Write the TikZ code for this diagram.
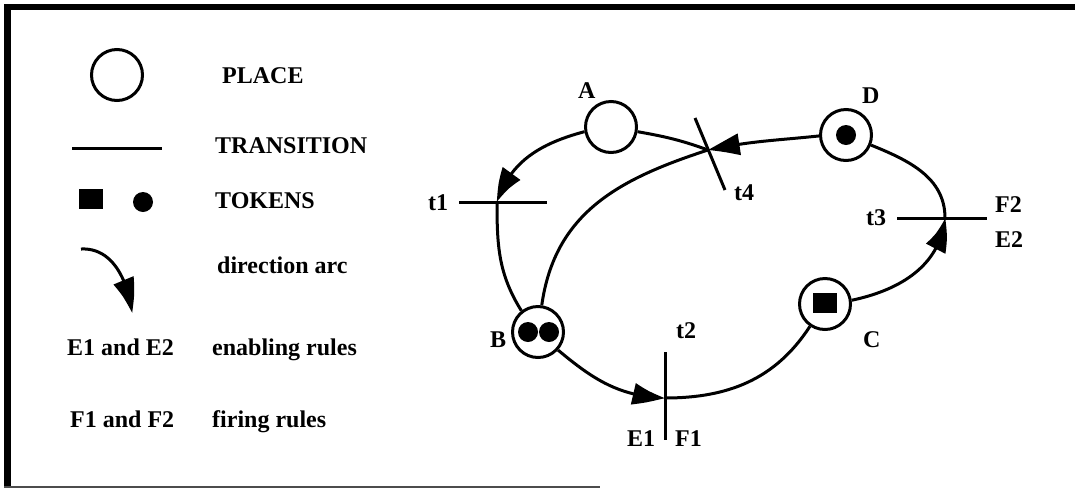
\documentclass[tikz,border=0pt]{standalone}
\usepackage{fontspec}
\setmainfont{Liberation Serif}
\usetikzlibrary{arrows.meta,calc,bending}
\newcommand\lbfnt{\fontsize{24}{27}\selectfont\bfseries}
\begin{document}
\begin{tikzpicture}[x=1pt,y=-1pt,
  place/.style={circle,draw,line width=3pt,minimum size=51pt,inner sep=0pt},
  dottok/.style={circle,fill,minimum size=20pt,inner sep=0pt},
  sqtok/.style={rectangle,fill,minimum width=24pt,minimum height=20pt,inner sep=0pt},
  lbl/.style={font=\lbfnt,inner sep=0pt,anchor=base west},
  arc/.style={line width=3pt},
  tarc/.style={line width=3pt,-{Triangle[length=34pt,width=21pt,bend]}},
  bar/.style={line width=3pt}]
\useasboundingbox (0,0) rectangle (1075,488);
% frame
\draw[line width=6.5pt] (4,7) -- (1075,7);
\draw[line width=7pt] (7.5,4) -- (7.5,488);
\draw[line width=1.2pt,black!70] (4,487) -- (600,487);

% ---------- legend ----------
\node[place] (lgplace) at (117,75) {};
\node[lbl] (lgplacet) at (222,83) {PLACE};
\coordinate (lgtrL) at (72,148);
\coordinate (lgtrR) at (162,148);
\draw[bar] (lgtrL) -- (lgtrR);
\node[lbl] (lgtrt) at (215,153) {TRANSITION};
\node[sqtok] (lgsq) at (90.5,199) {};
\node[dottok] (lgdot) at (143,202) {};
\node[lbl] (lgtokt) at (215,208) {TOKENS};
\coordinate (lgarcS) at (81,249);
\coordinate (lgarcE) at (132,313);
\draw[tarc] (lgarcS) to[out=3,in=97] (lgarcE);
\node[lbl] (lgarct) at (217,273) {direction arc};
\node[lbl] (lgE) at (67,355) {E1 and E2};
\node[lbl] (lgEt) at (212,355) {enabling rules};
\node[lbl] (lgF) at (70,427) {F1 and F2};
\node[lbl] (lgFt) at (212,427) {firing rules};

% ---------- net ----------
\node[place] (A) at (611,127) {};
\node[place] (B) at (538,332) {};
\node[place] (C) at (825,304) {};
\node[place] (D) at (846,135) {};
\node[dottok] (Btok1) at (528,332) {};
\node[dottok] (Btok2) at (549,332) {};
\node[sqtok] (Ctok) at (825,303) {};
\node[dottok] (Dtok) at (846,135) {};

\node[lbl] (Al) at (578,98) {A};
\node[lbl] (Bl) at (490,347) {B};
\node[lbl] (Cl) at (863,347) {C};
\node[lbl] (Dl) at (862,103) {D};

% transitions
\coordinate (t1) at (497,202);
\coordinate (t2) at (665,398);
\coordinate (t3) at (945,218);
\coordinate (t4) at (708,150);
\draw[bar] ($(t1)+(-38,0)$) -- ($(t1)+(50,0)$);
\draw[bar] ($(t2)+(0,-46)$) -- ($(t2)+(0,42)$);
\draw[bar] ($(t3)+(-48,0)$) -- ($(t3)+(42,0)$);
\draw[bar] ($(t4)+(-13,-32)$) -- ($(t4)+(17,40)$);
\node[lbl] (t1l) at (428,210) {t1};
\node[lbl] (t2l) at (676,338) {t2};
\node[lbl] (t3l) at (866,225) {t3};
\node[lbl] (t4l) at (734,200) {t4};
\node[lbl] (E1l) at (627,446) {E1};
\node[lbl] (F1l) at (675,446) {F1};
\node[lbl] (F2l) at (995,212) {F2};
\node[lbl] (E2l) at (995,247) {E2};

% arcs
\draw[tarc] (A.190) to[out=195,in=72] (t1);
\draw[arc] (t1) to[out=-90,in=122] (B.128);
\draw[tarc] (B.-42) to[out=-40,in=178] (t2);
\draw[arc] (t2) to[out=0,in=237] (C.236);
\draw[tarc] (C.8) to[out=12,in=-96] (t3);
\draw[arc] (t3) to[out=90,in=-22] (D.-22);
\draw[tarc] (D.182) to[out=186,in=12] (t4);
\draw[arc] (A.-10) to[out=-10,in=160] (t4);
\draw[arc] (t4) to[out=198,in=82,looseness=1.05] (B.82);
\end{tikzpicture}
\end{document}
